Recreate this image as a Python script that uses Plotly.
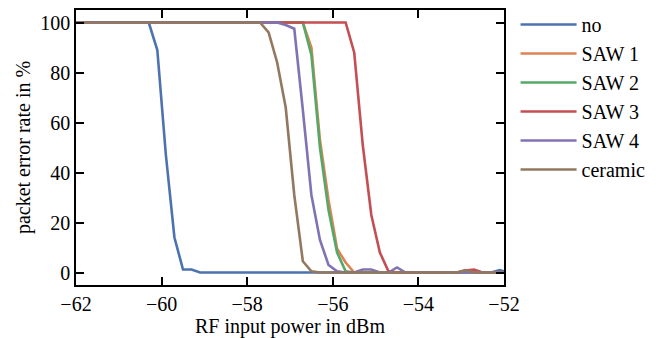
import plotly.graph_objects as go

power_dbm = [-62.1, -61.9, -61.7, -61.5, -61.3, -61.1, -60.9, -60.7, -60.5, -60.3,
             -60.1, -59.9, -59.7, -59.5, -59.3, -59.1, -58.9, -58.7, -58.5, -58.3,
             -58.1, -57.9, -57.7, -57.5, -57.3, -57.1, -56.9, -56.7, -56.5, -56.3,
             -56.1, -55.9, -55.7, -55.5, -55.3, -55.1, -54.9, -54.7, -54.5, -54.3,
             -54.1, -53.9, -53.7, -53.5, -53.3, -53.1, -52.9, -52.7, -52.5, -52.3,
             -52.1, -51.9]

per_no = [100, 100, 100, 100, 100, 100, 100, 100, 100, 100,
          89, 47, 14, 1.2, 1.2, 0, 0, 0, 0, 0,
          0, 0, 0, 0, 0, 0, 0, 0, 0, 0,
          0, 0, 0, 0, 0, 0, 0, 0, 0, 0,
          0, 0, 0, 0, 0, 0, 0, 0, 0, 0,
          1, 0]

per_saw1 = [100, 100, 100, 100, 100, 100, 100, 100, 100, 100,
            100, 100, 100, 100, 100, 100, 100, 100, 100, 100,
            100, 100, 100, 100, 100, 100, 100, 100, 90, 53,
            29, 9.5, 4, 0, 0, 0, 0, 0, 0, 0,
            0, 0, 0, 0, 0, 0, 0, 0, 0, 0,
            0, 0]

per_saw2 = [100, 100, 100, 100, 100, 100, 100, 100, 100, 100,
            100, 100, 100, 100, 100, 100, 100, 100, 100, 100,
            100, 100, 100, 100, 100, 100, 100, 100, 87, 50,
            25, 8, 0.5, 0, 0, 0, 0, 0, 0, 0,
            0, 0, 0, 0, 0, 0, 0, 0, 0, 0,
            0, 0]

per_saw3 = [100, 100, 100, 100, 100, 100, 100, 100, 100, 100,
            100, 100, 100, 100, 100, 100, 100, 100, 100, 100,
            100, 100, 100, 100, 100, 100, 100, 100, 100, 100,
            100, 100, 100, 88, 51, 23, 8, 0.5, 0, 0,
            0, 0, 0, 0, 0, 0, 0.8, 1.2, 0, 0,
            0, 0]

per_saw4 = [100, 100, 100, 100, 100, 100, 100, 100, 100, 100,
            100, 100, 100, 100, 100, 100, 100, 100, 100, 100,
            100, 100, 100, 100, 100, 99, 97.5, 65, 31, 13,
            3, 0.5, 0, 0, 1.2, 1.2, 0, 0, 2, 0,
            0, 0, 0, 0, 0, 0, 0, 0, 0, 0,
            0, 0]

per_ceramic = [100, 100, 100, 100, 100, 100, 100, 100, 100, 100,
               100, 100, 100, 100, 100, 100, 100, 100, 100, 100,
               100, 100, 100, 96, 84, 66, 31, 4.5, 0.5, 0,
               0, 0, 0, 0, 0, 0, 0, 0, 0, 0,
               0, 0, 0, 0, 0, 0, 1, 0, 0, 0,
               0, 0]

series_names = ["no", "SAW 1", "SAW 2", "SAW 3", "SAW 4", "ceramic"]
series_values = [per_no, per_saw1, per_saw2, per_saw3, per_saw4, per_ceramic]
colors = ["#4C72B0", "#DD8452", "#55A868", "#C44E52", "#8172B3", "#937860"]

x_ticks = [-62, -60, -58, -56, -54, -52]
y_ticks = [0, 20, 40, 60, 80, 100]

fig = go.Figure()
for i, (name, vals, col) in enumerate(zip(series_names, series_values, colors)):
    fig.add_trace(go.Scatter(
        x=power_dbm, y=vals, mode="lines", name=name,
        line=dict(color=col, width=2.6),
        legendgroup=f"g{i}",
    ))

font_family = "Liberation Serif"
axis_common = dict(
    showline=True, linecolor="black", linewidth=1.6,
    mirror="allticks", ticks="inside", ticklen=8, tickwidth=1.6,
    tickcolor="black", showgrid=False, zeroline=False, automargin=False,
    tickfont=dict(family=font_family, size=20, color="black"),
)

fig.update_layout(
    width=667, height=338,
    margin=dict(l=76, r=163, t=10, b=53, autoexpand=False),
    paper_bgcolor="white", plot_bgcolor="white",
    font=dict(family=font_family, size=20, color="black"),
    showlegend=True,
    legend=dict(
        x=1.027, y=1.0, xanchor="left", yanchor="top",
        font=dict(family=font_family, size=20, color="black"),
        tracegroupgap=0, itemwidth=56,
        bgcolor="rgba(0,0,0,0)",
    ),
    xaxis=dict(
        range=[-62, -52], tickvals=x_ticks,
        title=dict(text="RF input power in dBm", font=dict(family=font_family, size=20)),
        **axis_common,
    ),
    yaxis=dict(
        range=[-5, 105], tickvals=y_ticks,
        title=dict(text="packet error rate in %", font=dict(family=font_family, size=20),
                   standoff=4),
        **axis_common,
    ),
)

# nudge the legend up slightly where the plotly version allows a max height
try:
    fig.update_layout(legend=dict(maxheight=300, y=1.018))
except Exception:
    pass

fig.write_html("out.html")
